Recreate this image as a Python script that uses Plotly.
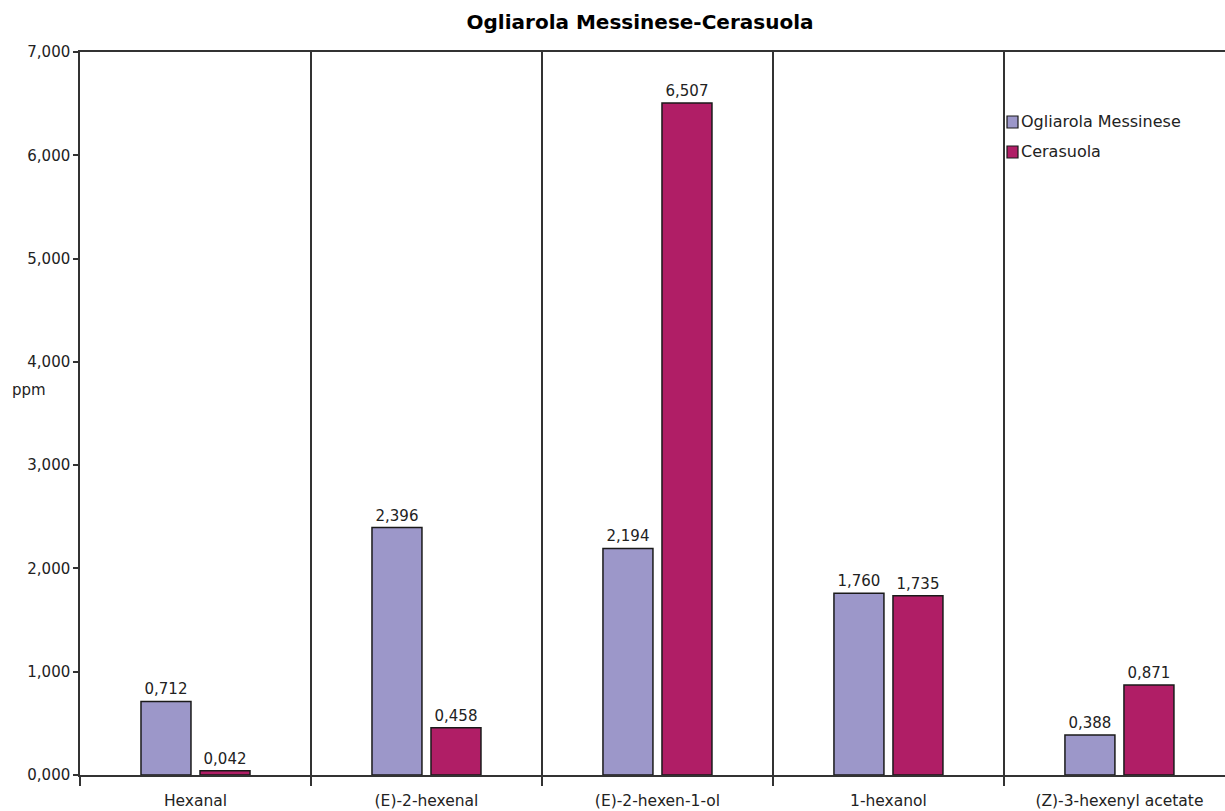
import plotly.graph_objects as go

# Volatile compounds and their concentrations (ppm) for the two cultivars
compounds = ["Hexanal", "(E)-2-hexenal", "(E)-2-hexen-1-ol", "1-hexanol", "(Z)-3-hexenyl acetate"]
series_names = ["Ogliarola Messinese", "Cerasuola"]
ogliarola = [0.712, 2.396, 2.194, 1.760, 0.388]
cerasuola = [0.042, 0.458, 6.507, 1.735, 0.871]
colors = ["#9C97C9", "#B01E66"]
y_ticks = [0, 1, 2, 3, 4, 5, 6, 7]

FONT = "DejaVu Sans"
TEXT = "#222222"

fig = go.Figure()
for name, vals, col in zip(series_names, [ogliarola, cerasuola], colors):
    fig.add_trace(go.Bar(
        x=compounds, y=vals, name=name,
        marker=dict(color=col, line=dict(color="#1a1a1a", width=1.5)),
        texttemplate="%{y:.3f}", textposition="outside",
        textfont=dict(family=FONT, size=15, color=TEXT),
        cliponaxis=False, showlegend=False,
    ))

# Hand-placed legend: coloured squares with series names
for i, (name, col) in enumerate(zip(series_names, colors)):
    yc = 122 + 30 * i
    fig.add_shape(type="rect", xref="paper", yref="paper",
                  x0=(1007 - 80) / 1145, x1=(1018 - 80) / 1145,
                  y0=(775 - (yc + 6)) / 723, y1=(775 - (yc - 6)) / 723,
                  fillcolor=col, line=dict(color="#1a1a1a", width=1.2))
    fig.add_annotation(text=name, xref="paper", yref="paper",
                       x=(1019 - 80) / 1145, y=(775 - yc) / 723,
                       xanchor="left", yanchor="middle", showarrow=False,
                       font=dict(family=FONT, size=16, color=TEXT))

fig.add_annotation(text="ppm", xref="paper", yref="paper",
                   x=(29 - 80) / 1145, y=(775 - 390) / 723, xanchor="center", yanchor="middle",
                   showarrow=False, font=dict(family=FONT, size=15, color=TEXT))

fig.update_layout(
    width=1225, height=811,
    margin=dict(l=80, r=0, t=52, b=36),
    paper_bgcolor="white", plot_bgcolor="white",
    separators=",.",
    barmode="group", bargap=0.489, bargroupgap=0.153,
    title=dict(text="<b>Ogliarola Messinese-Cerasuola</b>",
               x=(640 - 80) / 1145, xref="paper", xanchor="center",
               y=1 - 22 / 811, yanchor="middle",
               font=dict(family=FONT, size=20, color="#000000")),
)

fig.update_xaxes(
    range=[-0.5, 4.457],
    showline=True, linecolor="#333333", linewidth=1.5, mirror=True,
    showgrid=True, gridcolor="#333333", gridwidth=1.5,
    tickson="boundaries", ticks="outside", ticklen=9, tickcolor="#333333", tickwidth=1.5,
    ticklabelstandoff=11,
    tickfont=dict(family=FONT, size=15.5, color=TEXT),
    zeroline=False,
)
fig.update_yaxes(
    range=[0, 7], tickvals=y_ticks, tickformat=".3f",
    showline=True, linecolor="#333333", linewidth=1.5,
    ticks="outside", ticklen=5, tickcolor="#333333", tickwidth=1.5,
    showgrid=False, zeroline=False,
    tickfont=dict(family=FONT, size=15, color=TEXT),
)

fig.write_html("out.html")
